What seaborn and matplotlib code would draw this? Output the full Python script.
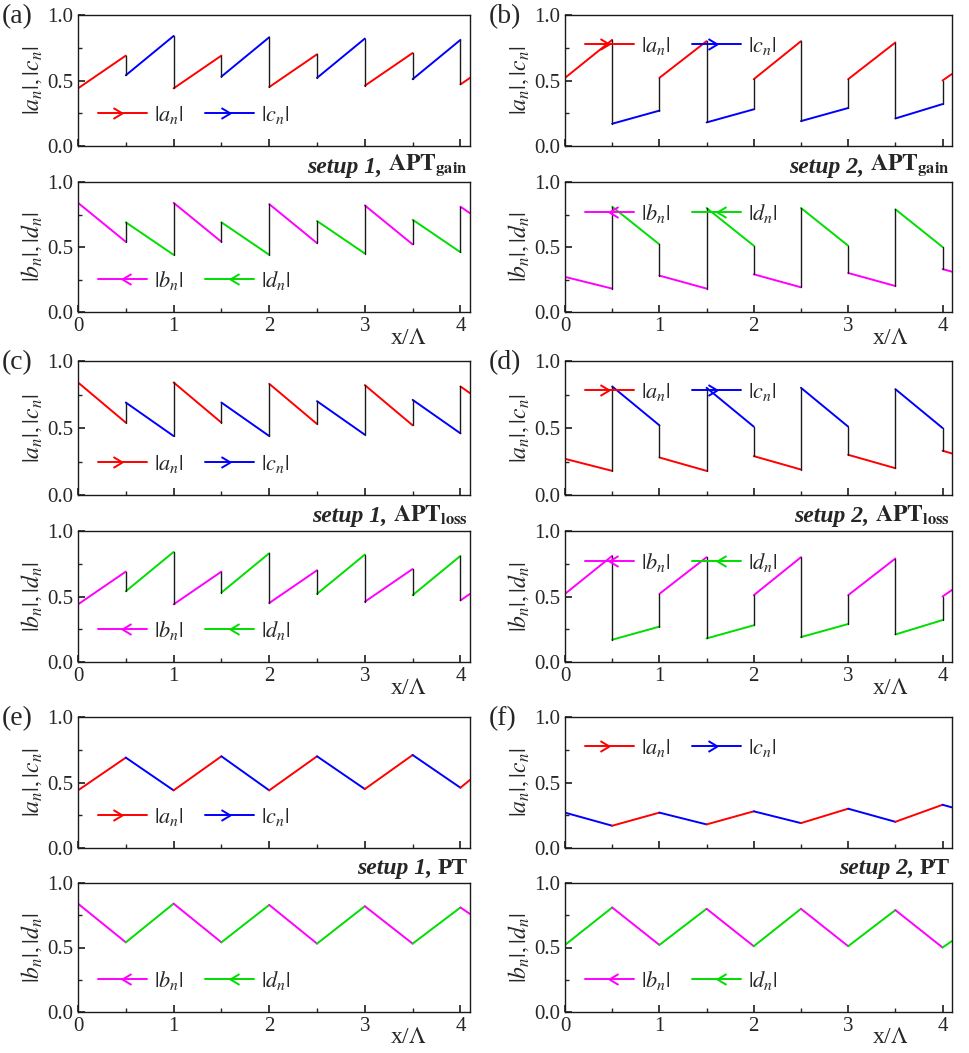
import numpy as np
import matplotlib
matplotlib.use("Agg")
import matplotlib.pyplot as plt
import seaborn as sns
import pandas as pd
from matplotlib.lines import Line2D
from matplotlib.path import Path

sns.set_theme(style="ticks")
plt.rcParams['font.family'] = ['Liberation Serif', 'DejaVu Serif']
plt.rcParams['mathtext.fontset'] = 'stix'

# segment boundaries (x/Lambda)
x_nodes = [0, 0.5, 1, 1.5, 2, 2.5, 3, 3.5, 4, 4.1]

# per panel: start & end value of each segment
a_top_s = [0.44, 0.54, 0.44, 0.53, 0.45, 0.52, 0.46, 0.51, 0.47]
a_top_e = [0.69, 0.84, 0.69, 0.83, 0.70, 0.82, 0.71, 0.81, 0.52]
a_bot_s = [0.84, 0.69, 0.84, 0.69, 0.83, 0.70, 0.82, 0.71, 0.81]
a_bot_e = [0.54, 0.44, 0.54, 0.44, 0.53, 0.45, 0.52, 0.46, 0.76]
b_top_s = [0.52, 0.17, 0.52, 0.18, 0.51, 0.19, 0.51, 0.21, 0.50]
b_top_e = [0.81, 0.27, 0.80, 0.28, 0.80, 0.29, 0.79, 0.32, 0.55]
b_bot_s = [0.27, 0.81, 0.28, 0.80, 0.29, 0.80, 0.30, 0.79, 0.33]
b_bot_e = [0.18, 0.52, 0.18, 0.51, 0.19, 0.51, 0.20, 0.50, 0.31]
c_top_s, c_top_e = a_bot_s, a_bot_e
c_bot_s, c_bot_e = a_top_s, a_top_e
d_top_s, d_top_e = b_bot_s, b_bot_e
d_bot_s, d_bot_e = b_top_s, b_top_e
e_top_s = [0.44, 0.69, 0.44, 0.70, 0.44, 0.70, 0.45, 0.71, 0.46]
e_top_e = [0.69, 0.44, 0.70, 0.44, 0.70, 0.45, 0.71, 0.46, 0.52]
e_bot_s = [0.84, 0.54, 0.84, 0.54, 0.83, 0.53, 0.82, 0.53, 0.81]
e_bot_e = [0.54, 0.84, 0.54, 0.83, 0.53, 0.82, 0.53, 0.81, 0.76]
f_top_s = [0.27, 0.17, 0.27, 0.18, 0.28, 0.19, 0.30, 0.20, 0.33]
f_top_e = [0.17, 0.27, 0.18, 0.28, 0.19, 0.30, 0.20, 0.33, 0.31]
f_bot_s = [0.52, 0.81, 0.52, 0.80, 0.51, 0.80, 0.51, 0.79, 0.50]
f_bot_e = [0.81, 0.52, 0.80, 0.51, 0.80, 0.51, 0.79, 0.50, 0.55]

RED, BLUE, MAG, GRN = '#ff0000', '#0000ff', '#ff00ff', '#00dd00'

W, H = 970, 1053
fig = plt.figure(figsize=(W/100, H/100), dpi=100)

ARROW_R = Path([(-1, 0.6), (0, 0), (-1, -0.6)], [Path.MOVETO, Path.LINETO, Path.LINETO])
ARROW_L = Path([(1, 0.6), (0, 0), (1, -0.6)], [Path.MOVETO, Path.LINETO, Path.LINETO])

def ax_px(x0, x1, ytop, ybot):
    return fig.add_axes([x0/W, 1-ybot/H, (x1-x0)/W, (ybot-ytop)/H])

def draw(ax, s, e, cols, ylabel, leg, legloc, right, xlabel=False):
    for i in range(len(s)):
        df = pd.DataFrame({'x': [x_nodes[i], x_nodes[i+1]], 'y': [s[i], e[i]]})
        sns.lineplot(data=df, x='x', y='y', ax=ax, color=cols[i % 2], lw=1.4)
        if i > 0 and abs(s[i]-e[i-1]) > 0.01:
            ax.plot([x_nodes[i]]*2, [e[i-1], s[i]], color='k', lw=1.0)
    ax.set_xlim(0, 4.1); ax.set_ylim(0, 1.0)
    ax.set_yticks([0, 0.5, 1.0]); ax.set_yticklabels(['0.0', '0.5', '1.0'])
    ax.set_xticks([0, 1, 2, 3, 4])
    ax.set_xticks(np.arange(0.5, 4.1, 1), minor=True)
    ax.set_yticks([0.25, 0.75], minor=True)
    ax.tick_params(direction='in', labelsize=15, length=5, top=False, right=False)
    ax.tick_params(which='minor', direction='in', length=3)
    if not xlabel:
        ax.set_xticklabels([])
    ax.set_xlabel('')
    ax.set_ylabel(ylabel, fontsize=17, labelpad=2)
    for sp in ax.spines.values():
        sp.set_linewidth(1.0); sp.set_color('k')
    hs = []
    for c in leg[1]:
        hs.append(Line2D([0], [0], color=c, lw=1.4,
                         marker=ARROW_R if right else ARROW_L, markersize=13,
                         markerfacecolor='none', markeredgecolor=c, markeredgewidth=1.4,
                         markevery=[-1] if right else [0]))
    ax.legend(hs, leg[0], loc=legloc, ncol=2, frameon=False, fontsize=16,
              handlelength=2.2, columnspacing=1.0, handletextpad=0.3)

lab_ac = r'$|a_n|, |c_n|$'
lab_bd = r'$|b_n|, |d_n|$'
leg_ac = ([r'$|a_n|$', r'$|c_n|$'], [RED, BLUE])
leg_bd = ([r'$|b_n|$', r'$|d_n|$'], [MAG, GRN])

cols_x = [(78, 470), (565, 952)]
rows = [(15, 146, 182, 312), (361, 495, 531, 662), (717, 848, 883, 1012)]
panels = [
    ('(a)', a_top_s, a_top_e, a_bot_s, a_bot_e, [RED, BLUE], [MAG, GRN], 'lower left', 'lower left', 'setup 1,', r'$\mathbf{APT}_{\mathbf{gain}}$'),
    ('(b)', b_top_s, b_top_e, b_bot_s, b_bot_e, [RED, BLUE], [MAG, GRN], 'upper left', 'upper left', 'setup 2,', r'$\mathbf{APT}_{\mathbf{gain}}$'),
    ('(c)', c_top_s, c_top_e, c_bot_s, c_bot_e, [RED, BLUE], [MAG, GRN], 'lower left', 'lower left', 'setup 1,', r'$\mathbf{APT}_{\mathbf{loss}}$'),
    ('(d)', d_top_s, d_top_e, d_bot_s, d_bot_e, [RED, BLUE], [MAG, GRN], 'upper left', 'upper left', 'setup 2,', r'$\mathbf{APT}_{\mathbf{loss}}$'),
    ('(e)', e_top_s, e_top_e, e_bot_s, e_bot_e, [RED, BLUE], [MAG, GRN], 'lower left', 'lower left', 'setup 1,', 'PT'),
    ('(f)', f_top_s, f_top_e, f_bot_s, f_bot_e, [BLUE, RED], [GRN, MAG], 'upper left', 'lower left', 'setup 2,', 'PT'),
]
for k, p in enumerate(panels):
    name, ts, te, bs, be, ct, cb, lt, lb, setup, kind = p
    r = rows[k // 2]; cx = cols_x[k % 2]
    ax1 = ax_px(cx[0], cx[1], r[0], r[1])
    ax2 = ax_px(cx[0], cx[1], r[2], r[3])
    draw(ax1, ts, te, ct, lab_ac, leg_ac, lt, True)
    draw(ax2, bs, be, cb, lab_bd, leg_bd, lb, False, xlabel=True)
    t1 = ax2.text(0.995, 1.03, kind, ha='right', va='bottom', fontsize=17,
                  fontweight='bold', transform=ax2.transAxes)
    ax2.annotate(setup + ' ', xy=(0, 0), xycoords=t1, ha='right', va='bottom',
                 fontsize=17, fontweight='bold', style='italic')
    ax2.text(3.45 / 4.1, -0.2, r'x/$\Lambda$', transform=ax2.transAxes,
             fontsize=17, ha='center', va='center')
    fig.text((cx[0] - 78 + 2)/W, 1 - (r[0] + 2)/H, name, fontsize=20, va='center', ha='left')

fig.savefig('out.png', dpi=100)
